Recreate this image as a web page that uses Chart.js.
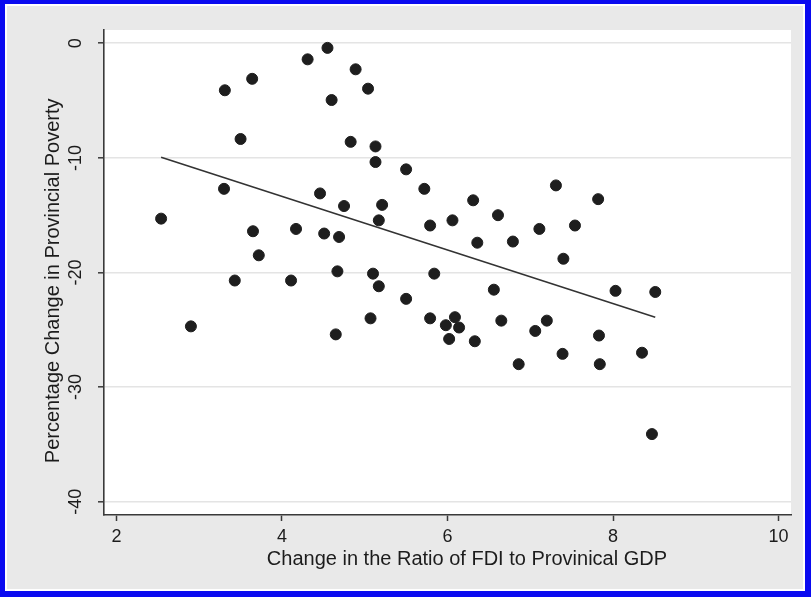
<!DOCTYPE html>
<html>
<head>
<meta charset="utf-8">
<script src="https://cdn.jsdelivr.net/npm/chart.js@4.4.1/dist/chart.umd.min.js"></script>
<style>
html,body{margin:0;padding:0;background:#fff;}
#wrap{width:811px;height:597px;}
</style>
</head>
<body>
<div id="wrap"><canvas id="c" width="811" height="597"></canvas></div>
<script>
// ---- data ----
const fdiChange = [2.54, 2.90, 3.31, 3.30, 3.43, 3.50, 3.64, 3.65, 3.72, 4.11,
                   4.17, 4.31, 4.46, 4.51, 4.55, 4.60, 4.65, 4.67, 4.69, 4.75,
                   4.83, 4.89, 5.04, 5.07, 5.10, 5.13, 5.13, 5.17, 5.17, 5.21,
                   5.50, 5.50, 5.72, 5.79, 5.79, 5.84, 5.98, 6.02, 6.06, 6.09,
                   6.14, 6.31, 6.33, 6.36, 6.56, 6.61, 6.65, 6.79, 6.86, 7.06,
                   7.11, 7.20, 7.31, 7.39, 7.40, 7.54, 7.82, 7.83, 7.84, 8.03,
                   8.35, 8.47, 8.51];
const povertyChange = [-15.3, -24.7, -4.1, -12.7, -20.7, -8.35, -3.1, -16.4, -18.5, -20.7,
                       -16.2, -1.4, -13.1, -16.6, -0.4, -4.95, -25.4, -19.9, -16.9, -14.2,
                       -8.6, -2.27, -3.96, -24.0, -20.1, -9.0, -10.36, -15.45, -21.2, -14.1,
                       -11.0, -22.3, -12.7, -15.9, -24.0, -20.1, -24.6, -25.8, -15.45, -23.9,
                       -24.8, -13.7, -26.0, -17.4, -21.5, -15.0, -24.2, -17.3, -28.0, -25.1,
                       -16.2, -24.2, -12.4, -27.1, -18.8, -15.9, -13.6, -25.5, -28.0, -21.6,
                       -27.0, -34.1, -21.7];
// fitted line endpoints as drawn in the reference
const fitLineX = [2.54, 8.51];
const fitLineY = [-9.95, -23.9];
const xTicks = [2, 4, 6, 8, 10];
const yTicks = [0, -10, -20, -30, -40];
const xTitle = 'Change in the Ratio of FDI to Provinical GDP';
const yTitle = 'Percentage Change in Provincial Poverty';

const FONT = "'Liberation Sans', Arial, Helvetica, sans-serif";
const TXT = '#1c1c1c';
const AX = '#3a3a3a';

const framePlugin = {
  id: 'frame',
  beforeDraw(chart) {
    const {ctx, width, height, chartArea: a} = chart;
    ctx.save();
    ctx.fillStyle = '#0a0af0';
    ctx.fillRect(0, 0, width, height);
    ctx.fillStyle = '#ffffff';
    ctx.fillRect(5, 4, width - 11, height - 10);
    ctx.fillStyle = '#e9e9e9';
    ctx.fillRect(7, 6, width - 15, height - 14);
    ctx.fillStyle = '#ffffff';
    ctx.fillRect(a.left, a.top, a.right - a.left, a.bottom - a.top);
    ctx.restore();
  }
};

new Chart(document.getElementById('c'), {
  type: 'scatter',
  data: {
    datasets: [
      {
        type: 'line',
        data: fitLineX.map((x, i) => ({x: x, y: fitLineY[i]})),
        borderColor: '#333333',
        borderWidth: 1.6,
        pointRadius: 0,
        fill: false,
        order: 0
      },
      {
        data: fdiChange.map((x, i) => ({x: x, y: povertyChange[i]})),
        backgroundColor: '#1e1e1e',
        borderColor: '#1e1e1e',
        borderWidth: 1,
        pointRadius: 5.5,
        order: 1
      }
    ]
  },
  options: {
    responsive: false,
    animation: false,
    devicePixelRatio: 1,
    layout: {padding: {left: 0, top: 30, right: 20, bottom: 0}},
    plugins: {legend: {display: false}, tooltip: {enabled: false}},
    scales: {
      x: {
        type: 'linear',
        min: 1.85,
        max: 10.15,
        afterBuildTicks: s => { s.ticks = xTicks.map(v => ({value: v})); },
        afterFit: s => { s.height = 82; },
        grid: {drawOnChartArea: false, drawTicks: true, tickLength: 6, tickColor: AX, tickWidth: 1.5},
        border: {display: true, color: AX, width: 1.6},
        ticks: {font: {family: FONT, size: 18}, color: TXT, padding: 5, maxRotation: 0, minRotation: 0},
        title: {display: true, text: '       ' + xTitle, font: {family: FONT, size: 20}, color: TXT, padding: {top: 0, bottom: 26}}
      },
      y: {
        type: 'linear',
        min: -41.16,
        max: 1.16,
        afterBuildTicks: s => { s.ticks = yTicks.map(v => ({value: v})); },
        afterFit: s => { s.width = 104; },
        grid: {color: '#e4e4e4', lineWidth: 1.6, drawTicks: true, tickLength: 6, tickColor: AX, tickWidth: 1.5},
        border: {display: true, color: AX, width: 1.6},
        ticks: {font: {family: FONT, size: 18}, color: TXT, padding: 8.5, minRotation: 90, maxRotation: 90, crossAlign: 'center'},
        title: {display: true, text: yTitle + '   ', font: {family: FONT, size: 20}, color: TXT, padding: {top: 41, bottom: 0}}
      }
    }
  },
  plugins: [framePlugin]
});
</script>
</body>
</html>
